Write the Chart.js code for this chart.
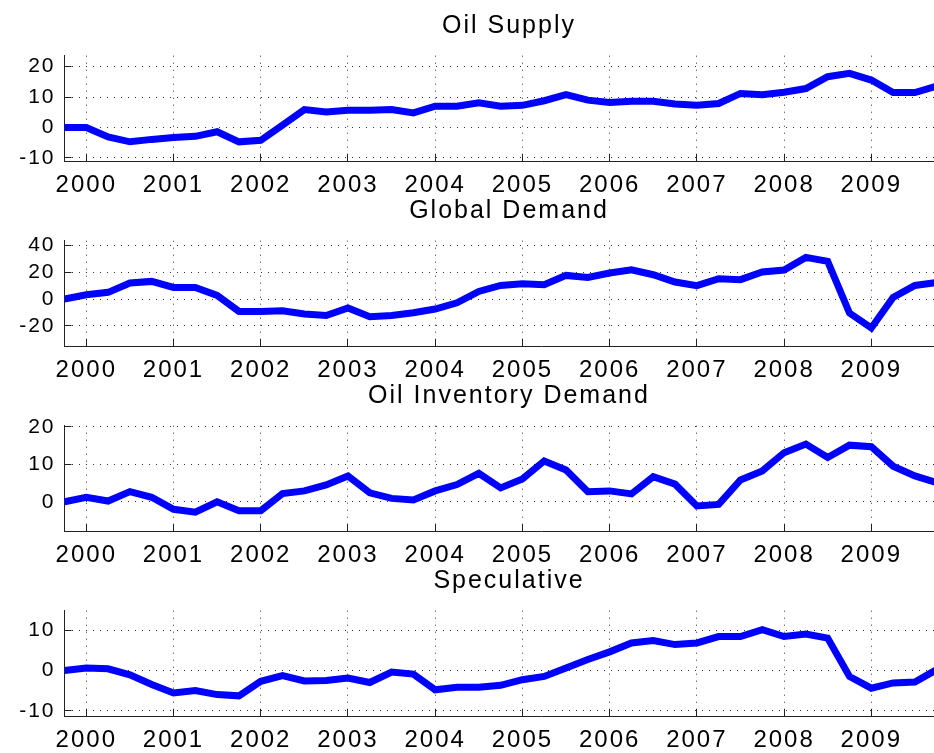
<!DOCTYPE html>
<html>
<head>
<meta charset="utf-8">
<script src="https://cdn.jsdelivr.net/npm/chart.js@4.4.1/dist/chart.umd.min.js"></script>
<style>
  html, body { margin: 0; padding: 0; background: #fff; overflow: hidden; width: 934px; height: 753px; }
  .panel { position: absolute; left: 0; width: 1018px; height: 201px; }
</style>
</head>
<body>
<div class="panel" style="top:0px"><canvas id="c0"></canvas></div>
<div class="panel" style="top:185px"><canvas id="c1"></canvas></div>
<div class="panel" style="top:370px"><canvas id="c2"></canvas></div>
<div class="panel" style="top:555px"><canvas id="c3"></canvas></div>
<script>
// quarterly dates
const quarters = [1999.75, 2000, 2000.25, 2000.5, 2000.75, 2001, 2001.25, 2001.5, 2001.75,
    2002, 2002.25, 2002.5, 2002.75, 2003, 2003.25, 2003.5, 2003.75,
    2004, 2004.25, 2004.5, 2004.75, 2005, 2005.25, 2005.5, 2005.75,
    2006, 2006.25, 2006.5, 2006.75, 2007, 2007.25, 2007.5, 2007.75,
    2008, 2008.25, 2008.5, 2008.75, 2009, 2009.25, 2009.5, 2009.75];

const yearTicks = [2000, 2001, 2002, 2003, 2004, 2005, 2006, 2007, 2008, 2009];
const yearLabels = ["2000", "2001", "2002", "2003", "2004", "2005", "2006", "2007", "2008", "2009"];

const oilSupply = [0, 0, -3.1, -4.7, -3.9, -3.3, -2.9, -1.4, -4.7, -4.2, 0.8, 5.9, 5.1, 5.7, 5.7, 5.9, 4.8,
    7.0, 7.0, 8.1, 7.0, 7.3, 8.8, 10.8, 9.0, 8.2, 8.6, 8.6, 7.7, 7.3, 7.9, 11.2, 10.8,
    11.6, 12.8, 16.7, 17.8, 15.6, 11.5, 11.5, 13.6];
const globalDemand = [0, 3.2, 5, 12, 13.2, 8.7, 8.7, 2.7, -9.3, -9.3, -8.8, -11.2, -12.3, -6.7, -13.3, -12.3, -10.3,
    -7.5, -2.8, 5.7, 10.2, 11.5, 10.7, 17.7, 16.2, 19.5, 21.9, 18.2, 12.7, 10, 15.2, 14.5, 20.2,
    21.7, 31.2, 28.2, -10.5, -21.7, 1.2, 10.2, 12.4];
const inventoryDemand = [0, 1.2, 0.2, 2.7, 1.2, -2.0, -2.8, 0, -2.4, -2.4, 2.2, 2.9, 4.5, 6.9, 2.4, 0.9, 0.5,
    2.9, 4.6, 7.6, 3.7, 6.1, 10.9, 8.5, 2.7, 2.9, 2.1, 6.7, 4.7, -1.1, -0.7, 5.8, 8.2,
    13.1, 15.4, 11.8, 15.1, 14.7, 9.5, 6.9, 5.1];
const speculative = [0, 0.6, 0.4, -1.1, -3.5, -5.6, -5.0, -6.0, -6.3, -2.7, -1.3, -2.6, -2.5, -1.9, -3.0, -0.4, -0.9,
    -4.8, -4.2, -4.2, -3.7, -2.3, -1.5, 0.6, 2.7, 4.6, 6.8, 7.4, 6.4, 6.8, 8.4, 8.4, 10.1,
    8.4, 9.0, 8.0, -1.5, -4.4, -3.1, -2.9, 0.2];

const supplyTicks = [-10, 0, 10, 20];
const demandTicks = [-20, 0, 20, 40];
const inventoryTicks = [0, 10, 20];
const specTicks = [-10, 0, 10];

Chart.defaults.font.family = "'Liberation Sans', Arial, sans-serif";
Chart.defaults.color = "#000";

// matlab-like wider lettering
const spacing = {
    id: "spacing",
    beforeUpdate(chart) { chart.ctx.letterSpacing = "2px"; },
    beforeDraw(chart) { chart.ctx.letterSpacing = "2px"; }
};

// small tick marks pointing into the plot
const inwardTicks = {
    id: "inwardTicks",
    beforeDatasetsDraw(chart) {
        const { ctx, chartArea, scales } = chart;
        ctx.save();
        ctx.strokeStyle = "#222";
        ctx.lineWidth = 1;
        ctx.beginPath();
        scales.x.ticks.forEach(t => {
            const px = Math.round(scales.x.getPixelForValue(t.value) - 0.5) + 0.5;
            ctx.moveTo(px, chartArea.bottom);
            ctx.lineTo(px, chartArea.bottom - 7);
        });
        scales.y.ticks.forEach(t => {
            const py = Math.round(scales.y.getPixelForValue(t.value) - 0.5) + 0.5;
            ctx.moveTo(chartArea.left, py);
            ctx.lineTo(chartArea.left + 7, py);
        });
        ctx.stroke();
        ctx.restore();
    }
};

function makePanel(id, title, values, yTicks, yMin, yMax) {
    const points = quarters.map((q, i) => ({ x: q, y: values[i] }));
    new Chart(document.getElementById(id), {
        type: "line",
        data: {
            datasets: [{
                data: points,
                borderColor: "#0000ff",
                borderWidth: 7,
                pointRadius: 0,
                tension: 0,
                fill: false
            }]
        },
        options: {
            responsive: true,
            maintainAspectRatio: false,
            devicePixelRatio: 1,
            animation: false,
            layout: { padding: 0 },
            plugins: {
                legend: { display: false },
                tooltip: { enabled: false },
                title: {
                    display: true,
                    text: title,
                    color: "#000",
                    font: { size: 25, weight: "normal" },
                    padding: { top: 10.7, bottom: 15.0 }
                }
            },
            scales: {
                x: {
                    type: "linear",
                    min: 1999.75,
                    max: 2010.682,
                    afterBuildTicks: s => { s.ticks = yearTicks.map(v => ({ value: v })); },
                    afterFit: s => { s.height = 40; },
                    ticks: {
                        callback: v => yearLabels[yearTicks.indexOf(v)],
                        font: { size: 24 },
                        color: "#000",
                        padding: 10,
                        autoSkip: false,
                        maxRotation: 0
                    },
                    grid: { color: "#333", lineWidth: 1, drawTicks: false },
                    border: { display: true, color: "#222", width: 1, dash: [1, 6] }
                },
                y: {
                    min: yMin,
                    max: yMax,
                    afterBuildTicks: s => { s.ticks = yTicks.map(v => ({ value: v })); },
                    afterFit: s => { s.width = 64.5; },
                    ticks: {
                        font: { size: 21 },
                        color: "#000",
                        padding: 9
                    },
                    grid: { color: "#333", lineWidth: 1, drawTicks: false },
                    border: { display: true, color: "#222", width: 1, dash: [1, 6] }
                }
            }
        },
        plugins: [spacing, inwardTicks]
    });
}

makePanel("c0", "Oil Supply", oilSupply, supplyTicks, -11, 23.6);
makePanel("c1", "Global Demand", globalDemand, demandTicks, -35.2, 43.7);
makePanel("c2", "Oil Inventory Demand", inventoryDemand, inventoryTicks, -7.8, 20.3);
makePanel("c3", "Speculative", speculative, specTicks, -11.3, 14.8);
</script>
</body>
</html>
